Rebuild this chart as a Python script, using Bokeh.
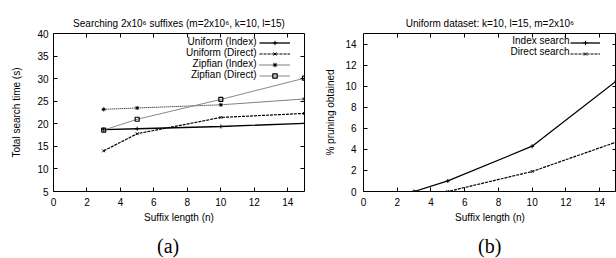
from bokeh.plotting import figure
from bokeh.layouts import row, column
from bokeh.models import Range1d, LinearAxis, Legend, LegendItem, FixedTicker, Label, Div
from bokeh.embed import file_html
from bokeh.resources import INLINE

# ---- data ----
suffix_len = [3, 5, 10, 15]
uni_index = [18.7, 18.9, 19.4, 20.1]
uni_direct = [14.0, 17.8, 21.4, 22.3]
zipf_index = [23.2, 23.5, 24.2, 25.5]
zipf_direct = [18.6, 21.0, 25.4, 30.1]

prune_index = [0.0, 1.0, 4.3, 10.5]
prune_direct = [0.0, 0.0, 1.9, 4.7]

x_ticks = [0, 2, 4, 6, 8, 10, 12, 14]
ya_ticks = [5, 10, 15, 20, 25, 30, 35, 40]
yb_ticks = [0, 2, 4, 6, 8, 10, 12, 14]

labels_a = ["Uniform (Index)", "Uniform (Direct)", "Zipfian (Index)", "Zipfian (Direct)"]
labels_b = ["Index search", "Direct search"]

FONT = "Liberation Sans"
H = 234
TOP = 33
BOTTOM = 43
FH = H - TOP - BOTTOM  # frame height (158)
ROW = 11


def style_axis(ax, ticks, show_labels=True, label_standoff=5, axis_standoff=3):
    ax.ticker = FixedTicker(ticks=ticks)
    ax.major_tick_in = 4
    ax.major_tick_out = 0
    ax.minor_tick_line_color = None
    ax.axis_line_color = None
    ax.major_tick_line_color = "black"
    ax.major_label_text_font = FONT
    ax.major_label_text_font_size = "10px"
    ax.major_label_text_color = "black"
    ax.major_label_standoff = label_standoff
    ax.axis_label_text_font = FONT
    ax.axis_label_text_font_size = "10px"
    ax.axis_label_text_font_style = "normal"
    ax.axis_label_text_color = "black"
    ax.axis_label_standoff = axis_standoff
    if not show_labels:
        ax.major_label_text_font_size = "0px"
        ax.major_label_text_color = None
        ax.major_label_standoff = 0


def make_fig(title, x1, y0, y1, yticks, ylabel, width, left, right, ylab_so, yax_so):
    p = figure(width=width, height=H, output_backend="svg", toolbar_location=None,
               x_range=Range1d(0, x1), y_range=Range1d(y0, y1),
               min_border_left=left, min_border_right=right, min_border_top=TOP,
               min_border_bottom=BOTTOM)
    p.title.text = title
    p.title.align = "center"
    p.title.text_font = FONT
    p.title.text_font_size = "10px"
    p.title.text_font_style = "normal"
    p.title.text_color = "black"
    p.title.offset = 0
    p.title.standoff = 10
    p.grid.visible = False
    p.outline_line_color = "black"
    p.outline_line_width = 1
    p.xaxis.axis_label = "Suffix length (n)"
    p.yaxis.axis_label = ylabel
    style_axis(p.xaxis[0], x_ticks, label_standoff=6, axis_standoff=3)
    style_axis(p.yaxis[0], yticks, label_standoff=ylab_so, axis_standoff=yax_so)
    top = LinearAxis(fixed_location=y1)
    style_axis(top, x_ticks, show_labels=False)
    rgt = LinearAxis(fixed_location=x1)
    style_axis(rgt, yticks, show_labels=False)
    p.add_layout(top, "above")
    p.add_layout(rgt, "right")
    return p


def add_legend(p, renderer_groups, labels, vx, glyph_w, text_x, first_y):
    items = [LegendItem(label=" ", renderers=rs) for rs in renderer_groups]
    n = len(items)
    box_h = n * ROW + 4
    box_top = first_y - ROW / 2 - 2
    lg = Legend(items=items, location=(vx, FH - box_top - box_h),
                border_line_color=None,
                background_fill_alpha=0, label_text_font_size="1px",
                label_height=ROW, glyph_height=ROW, label_width=0,
                glyph_width=glyph_w, spacing=0, padding=2, margin=0,
                label_standoff=0)
    p.add_layout(lg, "center")
    for i, t in enumerate(labels):
        p.add_layout(Label(x=text_x, y=FH - first_y - ROW * i, x_units="screen",
                           y_units="screen", text=t, text_align="right",
                           text_baseline="middle", text_font=FONT,
                           text_font_size="10px", text_color="black"))


def caption(text, width, indent):
    return Div(text=text, width=width, height=24, margin=(0, 0, 0, 0),
               styles={"font-family": "Liberation Serif", "font-size": "20px",
                       "line-height": "24px", "text-align": "left",
                       "text-indent": f"{indent}px", "color": "black",
                       "white-space": "nowrap"})


# ---- panel (a) ----
pa = make_fig("Searching 2x10\u2076 suffixes (m=2x10\u2076, k=10, l=15)",
              15, 5, 40, ya_ticks, "Total search time (s)", 308, 53, 4, 5, 12)

l1 = pa.line(suffix_len, uni_index, line_color="black", line_width=1.3)
m1 = pa.scatter(suffix_len, uni_index, marker="cross", size=4, line_color="black")
l2 = pa.line(suffix_len, uni_direct, line_color="black", line_width=1.2, line_dash="3 1")
m2 = pa.scatter(suffix_len, uni_direct, marker="x", size=4, line_color="black")
l3 = pa.line(suffix_len, zipf_index, line_color="black", line_width=1, line_dash="1 1")
m3 = pa.scatter(suffix_len, zipf_index, marker="asterisk", size=4, line_color="black")
l4 = pa.line(suffix_len, zipf_direct, line_color="#888888", line_width=1)
m4 = pa.scatter(suffix_len, zipf_direct, marker="square", size=4, line_color="black",
                fill_color=None, line_width=1.2)

add_legend(pa, [[l1, m1], [l2, m2], [l3, m3], [l4, m4]], labels_a, 206, 31, 203, 7.5)

# ---- panel (b) ----
pb = make_fig("Uniform dataset: k=10, l=15, m=2x10\u2076",
              15, 0, 15, yb_ticks, "% pruning obtained", 308, 55, 0, 7, 6)
n1 = pb.line(suffix_len, prune_index, line_color="black", line_width=1.3)
k1 = pb.scatter(suffix_len, prune_index, marker="cross", size=4, line_color="black")
n2 = pb.line(suffix_len, prune_direct, line_color="black", line_width=1.2, line_dash="3 1")
k2 = pb.scatter(suffix_len, prune_direct, marker="x", size=4, line_color="black")
add_legend(pb, [[n1, k1], [n2, k2]], labels_b, 207, 30, 206, 7)

cap_a = caption("(a)", 308, 157)
cap_b = caption("(b)", 308, 170)

layout = column(row(pa, pb), row(cap_a, cap_b))
open("out.html", "w").write(file_html(layout, INLINE))
